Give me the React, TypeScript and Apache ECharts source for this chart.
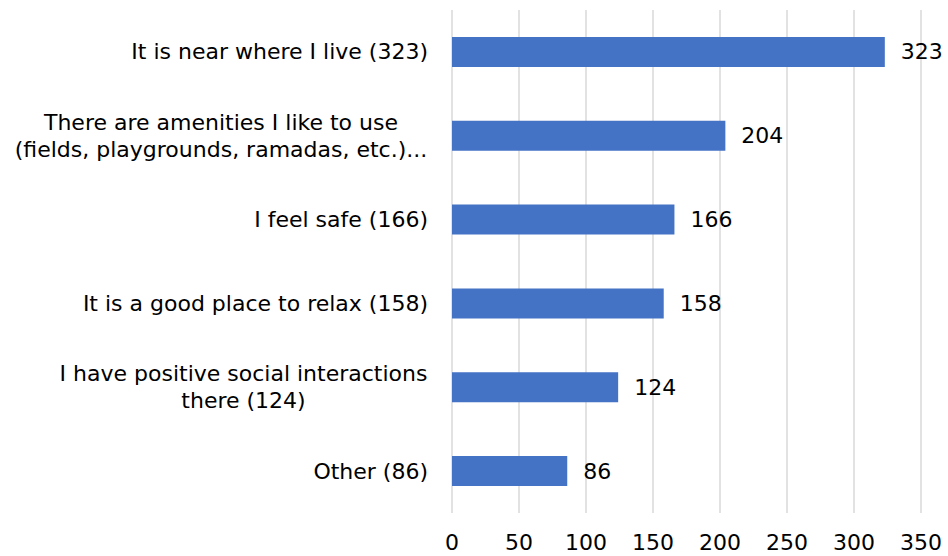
import React, { useEffect, useRef } from "react";
import * as echarts from "echarts";

const categories = [
  "It is near where I live (323)",
  "There are amenities I like to use\n(fields, playgrounds, ramadas, etc.)...",
  "I feel safe (166)",
  "It is a good place to relax (158)",
  "I have positive social interactions\nthere (124)",
  "Other (86)",
];
const values = [323, 204, 166, 158, 124, 86];
const xTicks = { min: 0, max: 350, interval: 50 };

export default function App() {
  const ref = useRef<HTMLDivElement>(null);
  useEffect(() => {
    document.body.style.margin = "0";
    const chart = echarts.init(ref.current!, null, { renderer: "svg" });
    const font = "'DejaVu Sans', sans-serif";
    const fs = 22;
    const ctx = document.createElement("canvas").getContext("2d")!;
    ctx.font = `${fs}px 'DejaVu Sans'`;
    const widths: Record<string, number> = {};
    categories.forEach((c) => {
      const lines = c.split("\n");
      widths[c] = Math.ceil(Math.max(...lines.map((l) => ctx.measureText(l).width))) + 1;
    });
    chart.setOption({
      animation: false,
      grid: { left: 452, right: 27, top: 10, bottom: 43, containLabel: false },
      xAxis: {
        type: "value",
        min: xTicks.min,
        max: xTicks.max,
        interval: xTicks.interval,
        axisLine: { show: false },
        axisTick: { show: false },
        splitLine: { show: true, lineStyle: { color: "#d9d9d9", width: 1.5 } },
        axisLabel: { color: "#000", fontSize: fs, fontFamily: font, margin: 18 },
      },
      yAxis: {
        type: "category",
        data: categories.slice().reverse(),
        axisLine: { show: false },
        axisTick: { show: false },
        axisLabel: {
          color: "#000",
          fontSize: fs,
          fontFamily: font,
          margin: 24,
          lineHeight: 27,
          align: "right",
          formatter: (v: string) => {
            const lines = v.split("\n");
            if (lines.length === 1) return v;
            const idx = categories.indexOf(v);
            return lines.map((l) => `{c${idx}|${l}}`).join("\n");
          },
          rich: Object.fromEntries(
            categories.map((c, i) => [
              `c${i}`,
              {
                width: widths[c],
                align: "center",
                fontSize: fs,
                fontFamily: font,
                color: "#000",
                lineHeight: 27,
              },
            ])
          ),
        },
      },
      series: [
        {
          type: "bar",
          data: values.slice().reverse(),
          barWidth: 30,
          itemStyle: { color: "#4472C4" },
          label: {
            show: true,
            position: "right",
            distance: 16,
            color: "#000",
            fontSize: fs,
            fontFamily: font,
          },
        },
      ],
    });
    return () => chart.dispose();
  }, []);
  return <div ref={ref} style={{ width: 948, height: 556 }} />;
}
